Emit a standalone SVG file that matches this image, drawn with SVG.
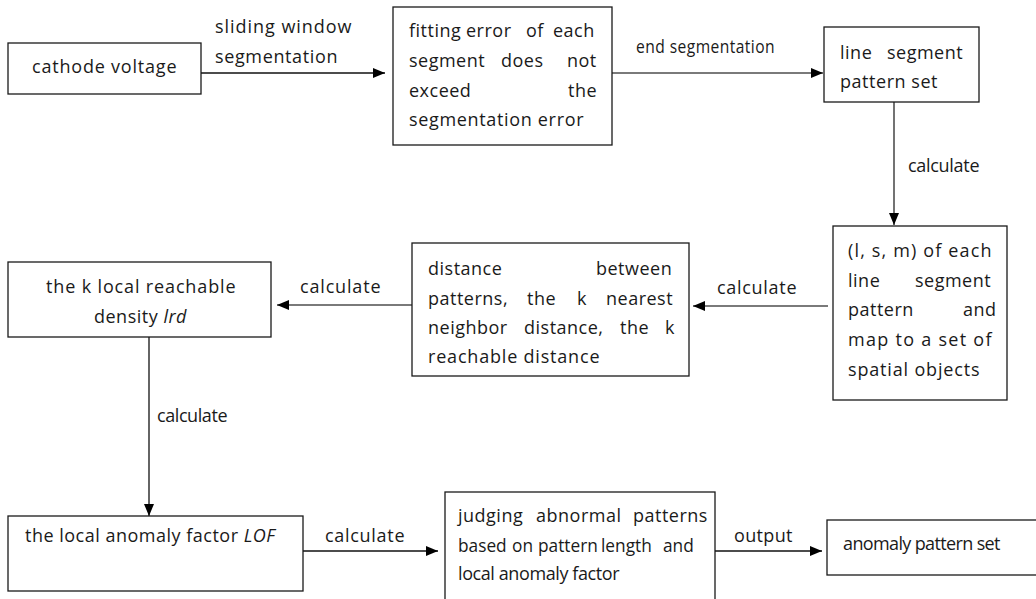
<svg xmlns="http://www.w3.org/2000/svg" width="1036" height="599" viewBox="0 0 1036 599">
<style>
.box{fill:#fff;stroke:#1a1a1a;stroke-width:1.3}
.t{font-family:"Open Sans","Liberation Sans",sans-serif;font-size:18px;fill:#1a1a1a;letter-spacing:0.5px}
.s{font-size:17.3px;letter-spacing:0}
.k{stroke:#111;stroke-width:1.3;fill:none}
.g{stroke:#7a7a7a;stroke-width:2.2;fill:none}
</style>
<defs>
<marker id="ah" viewBox="0 0 12 10" refX="12" refY="5" markerWidth="12" markerHeight="10" markerUnits="userSpaceOnUse" orient="auto">
<path d="M0,0 L12,5 L0,10 z" fill="#000"/>
</marker>
</defs>
<rect width="1036" height="599" fill="#fff"/>
<g id="connectors">
<line class="k" x1="201" y1="73" x2="385" y2="73" marker-end="url(#ah)"/>
<text class="t" x="215" y="33" textLength="137" lengthAdjust="spacing">sliding window</text>
<text class="t" x="215" y="63" textLength="123" lengthAdjust="spacing">segmentation</text>
<line class="g" x1="612" y1="73" x2="823" y2="73" marker-end="url(#ah)"/>
<text class="t" x="636" y="53" textLength="139" lengthAdjust="spacingAndGlyphs">end segmentation</text>
<line class="g" x1="894" y1="102" x2="894" y2="225" marker-end="url(#ah)" style="stroke:#444;stroke-width:1.5"/>
<text class="t" x="908" y="172" textLength="72" lengthAdjust="spacing">calculate</text>
<line class="g" x1="828" y1="306" x2="693" y2="306" marker-end="url(#ah)"/>
<text class="t" x="717" y="294" textLength="80" lengthAdjust="spacing">calculate</text>
<line class="g" x1="412" y1="305" x2="277" y2="305" marker-end="url(#ah)"/>
<text class="t" x="300" y="293" textLength="81" lengthAdjust="spacing">calculate</text>
<line class="k" x1="149" y1="337" x2="149" y2="516" marker-end="url(#ah)"/>
<text class="t" x="157" y="422" textLength="71" lengthAdjust="spacing">calculate</text>
<line class="k" x1="303" y1="551" x2="438" y2="551" marker-end="url(#ah)"/>
<text class="t" x="325" y="542" textLength="80" lengthAdjust="spacing">calculate</text>
<line class="k" x1="715" y1="551" x2="822" y2="551" marker-end="url(#ah)"/>
<text class="t" x="734" y="542" textLength="59" lengthAdjust="spacing">output</text>
</g>
<g id="n1">
<rect class="box" x="8" y="43" width="193" height="51"/>
<text class="t" x="32" y="73" textLength="145" lengthAdjust="spacing">cathode voltage</text>
</g>
<g id="n2">
<rect class="box" x="393" y="7" width="219" height="138"/>
<text class="t" y="37"><tspan x="409">fitting</tspan><tspan x="466">error</tspan><tspan x="526">of</tspan><tspan x="553">each</tspan></text>
<text class="t" y="67"><tspan x="409">segment</tspan><tspan x="501">does</tspan><tspan x="567">not</tspan></text>
<text class="t" y="97"><tspan x="409">exceed</tspan><tspan x="568">the</tspan></text>
<text class="t" x="409" y="126" textLength="175" lengthAdjust="spacing">segmentation error</text>
</g>
<g id="n3">
<rect class="box" x="824" y="27" width="155" height="75"/>
<text class="t" y="59"><tspan x="840">line</tspan><tspan x="887">segment</tspan></text>
<text class="t" x="840" y="88" textLength="98" lengthAdjust="spacing">pattern set</text>
</g>
<g id="n4">
<rect class="box" x="833" y="226" width="174" height="174"/>
<text class="t" x="848" y="257" textLength="144" lengthAdjust="spacing">(l, s, m) of each</text>
<text class="t" y="287"><tspan x="848">line</tspan><tspan x="915">segment</tspan></text>
<text class="t" y="316"><tspan x="848">pattern</tspan><tspan x="963">and</tspan></text>
<text class="t" x="848" y="346" textLength="144" lengthAdjust="spacing">map to a set of</text>
<text class="t" x="848" y="376" textLength="132" lengthAdjust="spacing">spatial objects</text>
</g>
<g id="n5">
<rect class="box" x="412" y="243" width="277" height="133"/>
<text class="t" y="275"><tspan x="428">distance</tspan><tspan x="596">between</tspan></text>
<text class="t" y="305"><tspan x="428">patterns,</tspan><tspan x="527">the</tspan><tspan x="577">k</tspan><tspan x="606">nearest</tspan></text>
<text class="t" y="334"><tspan x="428">neighbor</tspan><tspan x="524">distance,</tspan><tspan x="620">the</tspan><tspan x="665">k</tspan></text>
<text class="t" x="428" y="363" textLength="172" lengthAdjust="spacing">reachable distance</text>
</g>
<g id="n6">
<rect class="box" x="8" y="262" width="263" height="75"/>
<text class="t" x="46" y="293" textLength="190" lengthAdjust="spacing">the k local reachable</text>
<text class="t" x="94" y="323">density <tspan font-style="italic">lrd</tspan></text>
</g>
<g id="n7">
<rect class="box" x="8" y="516" width="295" height="75"/>
<text class="t" x="25" y="542">the local anomaly factor <tspan font-style="italic">LOF</tspan></text>
</g>
<g id="n8">
<rect class="box" x="445" y="492" width="270" height="110"/>
<text class="t" y="522"><tspan x="458">judging</tspan><tspan x="536">abnormal</tspan><tspan x="633">patterns</tspan></text>
<text class="t s" y="552"><tspan x="458">based</tspan><tspan x="512">on</tspan><tspan x="538">pattern</tspan><tspan x="601">length</tspan><tspan x="663">and</tspan></text>
<text class="t" x="458" y="580" textLength="162" lengthAdjust="spacing">local anomaly factor</text>
</g>
<g id="n9">
<rect class="box" x="827" y="520" width="215" height="55"/>
<text class="t" x="843" y="550" textLength="158" lengthAdjust="spacing">anomaly pattern set</text>
</g>
</svg>
